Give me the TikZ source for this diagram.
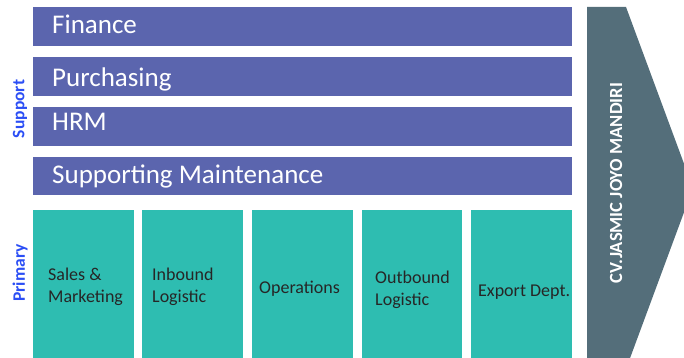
\documentclass[tikz,border=0pt]{standalone}
\usepackage{fontspec}
\setmainfont{Carlito}
\definecolor{barpurple}{HTML}{5B65AE}
\definecolor{boxteal}{HTML}{2EBDB1}
\definecolor{arrowgray}{HTML}{546E7A}
\definecolor{labelblue}{HTML}{2B4EF5}
\begin{document}
\begin{tikzpicture}[x=1pt,y=-1pt,
  supbar/.style={fill=barpurple,draw=none},
  primbox/.style={fill=boxteal,draw=none},
  bartext/.style={anchor=base west,text=white,font=\fontsize{27}{29}\selectfont,inner sep=0pt},
  primtext/.style={anchor=base west,text=black!85,font=\fontsize{18}{21.5}\selectfont,inner sep=0pt,align=left},
  sidelabel/.style={rotate=90,text=labelblue,font=\fontsize{17.5}{19}\selectfont\bfseries,inner sep=0pt}]
\useasboundingbox (0,0) rectangle (684,358);
\begin{scope}
\clip (0,0) rectangle (684,358);
% arrow
\fill[arrowgray] (587,7) -- (626,7) -- (693,188) -- (626,369) -- (587,369) -- cycle;
\end{scope}
\node[rotate=90,text=white,font=\fontsize{18.5}{20}\selectfont\bfseries,inner sep=0pt] (company) at (616,183) {CV.JASMIC JOYO MANDIRI};
% support bars
\fill[supbar] (33,7) rectangle (572,46);
\fill[supbar] (33,57) rectangle (572,96);
\fill[supbar] (33,107) rectangle (572,146);
\fill[supbar] (33,157) rectangle (572,195);
\node[bartext] (fin) at (52,34) {Finance};
\node[bartext] (pur) at (52,87) {Purchasing};
\node[bartext] (hrm) at (52,131) {HRM};
\node[bartext] (sm) at (52,183) {Supporting Maintenance};
% primary boxes
\fill[primbox] (33,210) rectangle (134,358);
\fill[primbox] (142,210) rectangle (243,358);
\fill[primbox] (252,210) rectangle (353,358);
\fill[primbox] (362,210) rectangle (462,358);
\fill[primbox] (471,210) rectangle (572,358);
\node[primtext] (sales) at (48,302) {Sales \&\\Marketing};
\node[primtext] (inb) at (152,302) {Inbound\\Logistic};
\node[primtext] (ops) at (259,293) {Operations};
\node[primtext] (outb) at (375,305) {Outbound\\Logistic};
\node[primtext] (exp) at (478,296) {Export Dept.};
% side labels
\node[sidelabel] (support) at (20,109) {Support};
\node[sidelabel] (primary) at (20,273) {Primary};
\end{tikzpicture}
\end{document}
